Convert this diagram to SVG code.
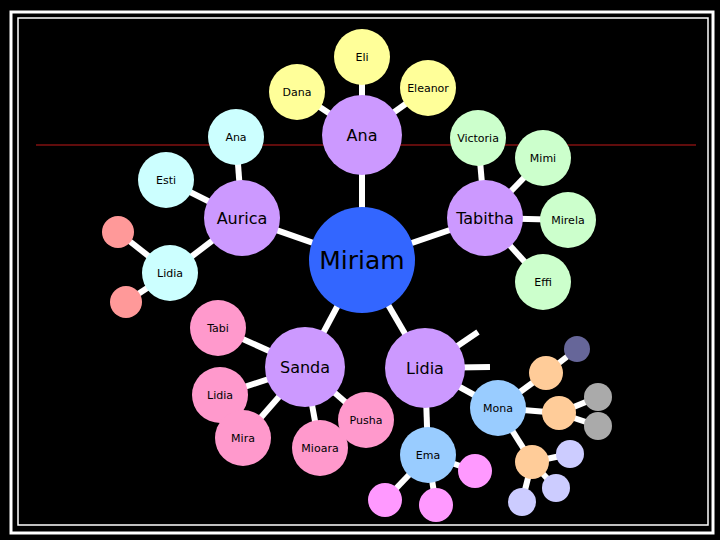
<svg xmlns="http://www.w3.org/2000/svg" width="720" height="540" viewBox="0 0 720 540">
<style>
text{font-family:"DejaVu Sans","Liberation Sans",sans-serif;text-anchor:middle;dominant-baseline:central;fill:#000}
.s{font-size:11px}.m{font-size:16px}
.e line{stroke:#fff;stroke-width:6}
.p{fill:#cc99ff}.y{fill:#ffff99}.c{fill:#ccffff}.g{fill:#ccffcc}.k{fill:#ff99cc}.b{fill:#99ccff}.r{fill:#ff9999}.mg{fill:#ff99ff}.o{fill:#ffcc99}.l{fill:#ccccff}.gr{fill:#aaaaaa}
</style>
<rect width="720" height="540" fill="#000"/>
<rect x="11" y="12" width="702" height="521" fill="none" stroke="#fff" stroke-width="3"/>
<rect x="18" y="18" width="690" height="507" fill="none" stroke="#fff" stroke-width="1.5"/>
<line x1="36" y1="145" x2="696" y2="145" stroke="#801010" stroke-width="1.5"/>
<g class="e" id="connectors">
<line x1="362" y1="260" x2="362" y2="135"/><line x1="362" y1="135" x2="362" y2="57"/><line x1="362" y1="135" x2="297" y2="92"/><line x1="362" y1="135" x2="428" y2="88"/>
<line x1="362" y1="260" x2="242" y2="218"/><line x1="242" y1="218" x2="236" y2="137"/><line x1="242" y1="218" x2="166" y2="180"/><line x1="242" y1="218" x2="170" y2="273"/>
<line x1="170" y1="273" x2="118" y2="232"/><line x1="170" y1="273" x2="126" y2="302"/>
<line x1="362" y1="260" x2="485" y2="218"/><line x1="485" y1="218" x2="478" y2="138"/><line x1="485" y1="218" x2="543" y2="158"/><line x1="485" y1="218" x2="568" y2="220"/><line x1="485" y1="218" x2="543" y2="282"/>
<line x1="362" y1="260" x2="305" y2="367"/><line x1="305" y1="367" x2="218" y2="328"/><line x1="305" y1="367" x2="220" y2="395"/><line x1="305" y1="367" x2="243" y2="438"/><line x1="305" y1="367" x2="320" y2="448"/><line x1="305" y1="367" x2="366" y2="420"/>
<line x1="362" y1="260" x2="425" y2="368"/><line x1="425" y1="368" x2="478" y2="332"/><line x1="425" y1="368" x2="490" y2="367"/><line x1="425" y1="368" x2="428" y2="455"/><line x1="425" y1="368" x2="498" y2="408"/>
<line x1="428" y1="455" x2="475" y2="471"/><line x1="428" y1="455" x2="385" y2="500"/><line x1="428" y1="455" x2="436" y2="505"/>
<line x1="498" y1="408" x2="546" y2="373"/><line x1="546" y1="373" x2="577" y2="349"/>
<line x1="498" y1="408" x2="559" y2="413"/><line x1="559" y1="413" x2="598" y2="397"/><line x1="559" y1="413" x2="598" y2="426"/>
<line x1="498" y1="408" x2="532" y2="462"/><line x1="532" y1="462" x2="570" y2="454"/><line x1="532" y1="462" x2="556" y2="488"/><line x1="532" y1="462" x2="522" y2="502"/>
</g>
<g id="miriam"><circle cx="362" cy="260" r="53" fill="#3366ff"/><text x="362" y="260" font-size="25">Miriam</text></g>
<g id="ana"><circle class="p" cx="362" cy="135" r="40"/><text class="m" x="362" y="135">Ana</text></g>
<g id="eli"><circle class="y" cx="362" cy="57" r="28"/><text class="s" x="362" y="57">Eli</text></g>
<g id="dana"><circle class="y" cx="297" cy="92" r="28"/><text class="s" x="297" y="92">Dana</text></g>
<g id="eleanor"><circle class="y" cx="428" cy="88" r="28"/><text class="s" x="428" y="88">Eleanor</text></g>
<g id="aurica"><circle class="p" cx="242" cy="218" r="38"/><text class="m" x="242" y="218">Aurica</text></g>
<g id="ana2"><circle class="c" cx="236" cy="137" r="28"/><text class="s" x="236" y="137">Ana</text></g>
<g id="esti"><circle class="c" cx="166" cy="180" r="28"/><text class="s" x="166" y="180">Esti</text></g>
<g id="lidia1"><circle class="c" cx="170" cy="273" r="28"/><text class="s" x="170" y="273">Lidia</text></g>
<g id="r1"><circle class="r" cx="118" cy="232" r="16"/></g>
<g id="r2"><circle class="r" cx="126" cy="302" r="16"/></g>
<g id="tabitha"><circle class="p" cx="485" cy="218" r="38"/><text class="m" x="485" y="218">Tabitha</text></g>
<g id="victoria"><circle class="g" cx="478" cy="138" r="28"/><text class="s" x="478" y="138">Victoria</text></g>
<g id="mimi"><circle class="g" cx="543" cy="158" r="28"/><text class="s" x="543" y="158">Mimi</text></g>
<g id="mirela"><circle class="g" cx="568" cy="220" r="28"/><text class="s" x="568" y="220">Mirela</text></g>
<g id="effi"><circle class="g" cx="543" cy="282" r="28"/><text class="s" x="543" y="282">Effi</text></g>
<g id="sanda"><circle class="p" cx="305" cy="367" r="40"/><text class="m" x="305" y="367">Sanda</text></g>
<g id="tabi"><circle class="k" cx="218" cy="328" r="28"/><text class="s" x="218" y="328">Tabi</text></g>
<g id="lidia2"><circle class="k" cx="220" cy="395" r="28"/><text class="s" x="220" y="395">Lidia</text></g>
<g id="mira"><circle class="k" cx="243" cy="438" r="28"/><text class="s" x="243" y="438">Mira</text></g>
<g id="mioara"><circle class="k" cx="320" cy="448" r="28"/><text class="s" x="320" y="448">Mioara</text></g>
<g id="pusha"><circle class="k" cx="366" cy="420" r="28"/><text class="s" x="366" y="420">Pusha</text></g>
<g id="lidia3"><circle class="p" cx="425" cy="368" r="40"/><text class="m" x="425" y="368">Lidia</text></g>
<g id="ema"><circle class="b" cx="428" cy="455" r="28"/><text class="s" x="428" y="455">Ema</text></g>
<g id="mona"><circle class="b" cx="498" cy="408" r="28"/><text class="s" x="498" y="408">Mona</text></g>
<g id="leaves">
<circle class="mg" cx="475" cy="471" r="17"/><circle class="mg" cx="385" cy="500" r="17"/><circle class="mg" cx="436" cy="505" r="17"/>
<circle class="o" cx="546" cy="373" r="17"/><circle class="o" cx="559" cy="413" r="17"/><circle class="o" cx="532" cy="462" r="17"/>
<circle cx="577" cy="349" r="13" fill="#666699"/>
<circle class="gr" cx="598" cy="397" r="14"/><circle class="gr" cx="598" cy="426" r="14"/>
<circle class="l" cx="570" cy="454" r="14"/><circle class="l" cx="556" cy="488" r="14"/><circle class="l" cx="522" cy="502" r="14"/>
</g>
</svg>
